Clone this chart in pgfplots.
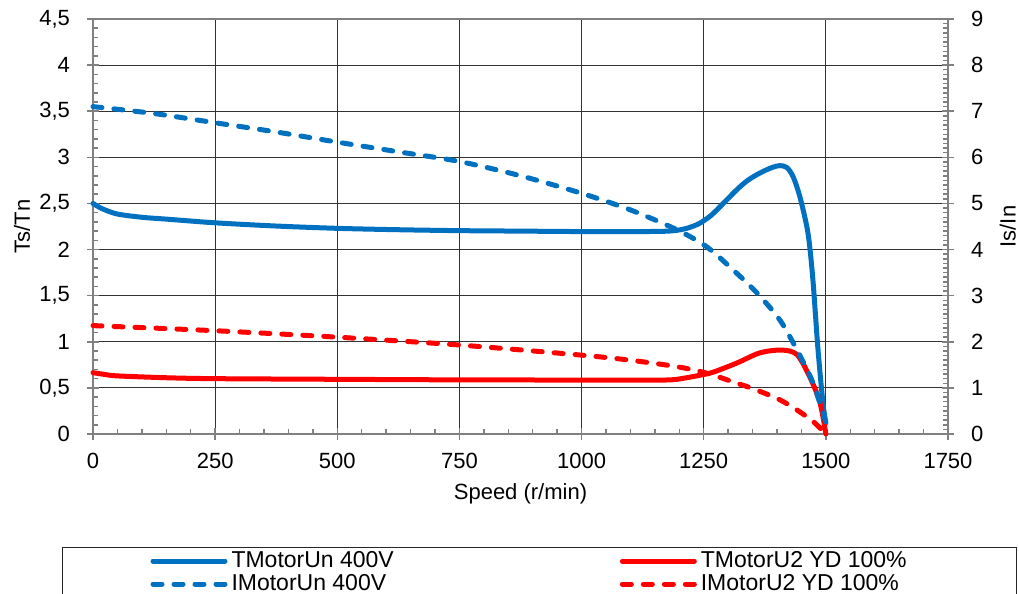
\documentclass[border=0pt]{standalone}
\usepackage{fontspec}
\setmainfont{Liberation Sans}
\usepackage{pgfplots}
\pgfplotsset{compat=1.18}
\definecolor{mblue}{HTML}{0070C0}
\definecolor{mred}{HTML}{FF0000}

\pgfplotsset{
  chartbase/.style={
    scale only axis, width=427.5pt, height=207.5pt,
    at={(0,0)}, anchor=south west,
    xmin=0, xmax=1750, clip=false,
    axis line style={black!50, line width=0.75pt},
    tick style={black!50, line width=0.75pt},
    tick align=center, major tick length=6pt, minor tick length=2.5pt,
    tick label style={font=\fontsize{11}{13}\selectfont},
    label style={font=\fontsize{11}{13}\selectfont},
    /pgf/number format/assume math mode=true,
    /pgf/number format/use comma,
    /pgf/number format/set thousands separator={},
  },
  tline/.style={line width=2.5pt, line cap=round, line join=round, smooth, tension=0.5},
  dline/.style={tline, dash pattern=on 4.5pt off 6pt},
}

\begin{document}
\begin{tikzpicture}
\useasboundingbox (-46.5pt,-80pt) rectangle (463pt,217pt);

\begin{axis}[chartbase,
  ymin=0, ymax=4.5,
  ytick={0,0.5,1,1.5,2,2.5,3,3.5,4,4.5},
  xtick={0,250,500,750,1000,1250,1500,1750},
  minor x tick num=4, minor y tick num=4,
  xtick pos=bottom, ytick pos=left,
  every minor y tick/.append style={xshift=1.25pt},
  every minor x tick/.append style={yshift=1.25pt},
  grid=major, major grid style={black!80, line width=0.5pt},
  xticklabel style={yshift=-3pt},
  yticklabel style={xshift=-5pt},
  xlabel={Speed (r/min)}, ylabel={Ts/Tn},
  xlabel style={at={(axis description cs:0.5,-0.1446)}, anchor=center},
  ylabel style={at={(axis description cs:-0.083,0.5)}, anchor=center},
  legend columns=2,
  legend cell align=left,
  legend image code/.code={\draw[#1] (0pt,0pt) -- (36pt,0pt);},
  legend style={at={(axis description cs:-0.03626,-0.2723)}, anchor=north west,
    draw=black!85, line width=0.5pt, inner xsep=44pt, inner ysep=0pt,
    font=\fontsize{11.5}{13}\selectfont, row sep=-2pt,
    /tikz/every even column/.append style={column sep=111pt}},
]
\addplot[mblue, tline] coordinates {
  (0,2.50) (20,2.44) (50,2.385) (100,2.35) (150,2.33) (250,2.29) (375,2.255)
  (500,2.23) (625,2.215) (750,2.205) (875,2.20) (1000,2.195) (1100,2.195)
  (1160,2.197) (1190,2.205) (1215,2.23) (1240,2.28) (1265,2.37) (1290,2.50)
  (1318,2.65) (1340,2.75) (1365,2.83) (1390,2.89) (1406,2.91) (1420,2.89)
  (1433,2.79) (1447,2.57) (1461,2.25) (1467,2.03) (1474,1.64) (1484,0.91)
  (1494,0.34) (1500,0.12)
};
\addplot[mred, tline] coordinates {
  (0,0.665) (25,0.645) (50,0.63) (150,0.61) (250,0.60) (500,0.593) (750,0.587)
  (1000,0.585) (1160,0.585) (1190,0.59) (1215,0.61) (1240,0.635) (1269,0.67)
  (1318,0.77) (1365,0.88) (1410,0.91) (1441,0.86) (1467,0.62) (1488,0.34)
  (1500,0.0)
};
\addlegendimage{mblue, dline}
\addlegendimage{mred, dline}
\legend{TMotorUn 400V, \makebox[112pt][l]{TMotorU2 YD 100\%}, IMotorUn 400V, IMotorU2 YD 100\%}
\end{axis}

\begin{axis}[chartbase,
  ymin=0, ymax=9,
  ytick={0,1,2,3,4,5,6,7,8,9},
  minor y tick num=9,
  axis y line*=right, axis x line=none,
  every minor y tick/.append style={xshift=-1.25pt},
  yticklabel style={xshift=5pt},
  ylabel={Is/In},
  ylabel style={at={(axis description cs:1.07,0.5)}, anchor=center},
]
\addplot[mblue, dline] coordinates {
  (0,7.10) (125,6.95) (250,6.75) (375,6.55) (500,6.33) (625,6.12) (750,5.91)
  (875,5.60) (1000,5.22) (1100,4.86) (1195,4.43) (1256,4.06) (1310,3.56)
  (1359,3.06) (1406,2.47) (1441,1.82) (1474,1.10) (1500,0.25)
};
\addplot[mred, dline] coordinates {
  (0,2.35) (250,2.24) (500,2.10) (750,1.93) (1000,1.71) (1100,1.60) (1195,1.46)
  (1256,1.32) (1310,1.13) (1359,0.95) (1406,0.74) (1441,0.52) (1474,0.27)
  (1500,0.0)
};
\end{axis}
\end{tikzpicture}
\end{document}
